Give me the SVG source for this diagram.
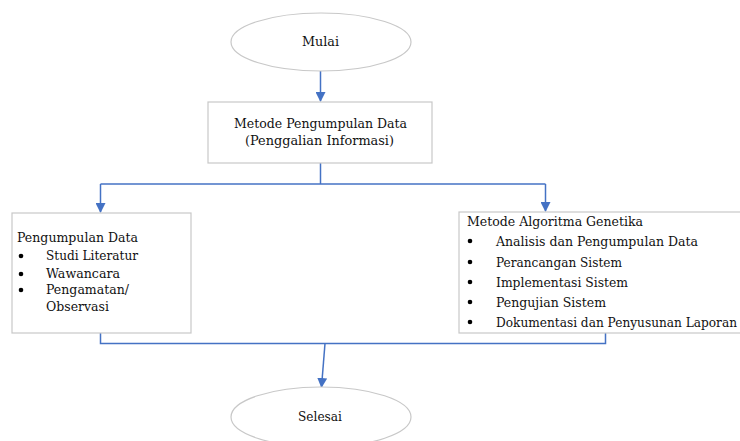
<svg xmlns="http://www.w3.org/2000/svg" width="740" height="441" viewBox="0 0 740 441">
<defs>
<style>
.shape{fill:#ffffff;stroke:#c8c8c8;stroke-width:1.2}
.c{fill:none;stroke:#4472c4;stroke-width:1.5}
.b{fill:#000}
</style>
<marker id="ah" markerWidth="10" markerHeight="10" refX="9" refY="5" orient="auto" markerUnits="userSpaceOnUse">
<path d="M0,0 L10,5 L0,10 Z" fill="#4472c4"/>
</marker>
</defs>
<rect width="740" height="441" fill="#ffffff"/>

<g id="connectors">
<path class="c" d="M320.5,71 L320.5,101" marker-end="url(#ah)"/>
<path class="c" d="M320.5,163 L320.5,184"/>
<path class="c" d="M100.5,184 L545.5,184"/>
<path class="c" d="M100.5,184 L100.5,212" marker-end="url(#ah)"/>
<path class="c" d="M545.5,184 L545.5,211" marker-end="url(#ah)"/>
<path class="c" d="M100.5,333 L100.5,343.5 L605.5,343.5 L605.5,333"/>
<path class="c" d="M325,343.5 L321.5,387" marker-end="url(#ah)"/>
</g>

<g font-family="'DejaVu Serif', 'Liberation Serif', serif" font-size="13" fill="#111">
<g id="mulai">
<ellipse class="shape" cx="321" cy="42" rx="90" ry="29"/>
<text x="302" y="46" textLength="37" lengthAdjust="spacingAndGlyphs">Mulai</text>
</g>

<g id="metode-pengumpulan">
<rect class="shape" x="208" y="102" width="224" height="61"/>
<text x="234" y="128" textLength="173" lengthAdjust="spacingAndGlyphs">Metode Pengumpulan Data</text>
<text x="245" y="145" textLength="149" lengthAdjust="spacingAndGlyphs">(Penggalian Informasi)</text>
</g>

<g id="pengumpulan-data">
<rect class="shape" x="12" y="213" width="179" height="120"/>
<text x="17" y="242" textLength="121" lengthAdjust="spacingAndGlyphs">Pengumpulan Data</text>
<circle class="b" cx="21" cy="256" r="2.3"/>
<text x="46" y="260" textLength="92" lengthAdjust="spacingAndGlyphs">Studi Literatur</text>
<circle class="b" cx="21" cy="274" r="2.3"/>
<text x="46" y="278" textLength="74" lengthAdjust="spacingAndGlyphs">Wawancara</text>
<circle class="b" cx="21" cy="290" r="2.3"/>
<text x="46" y="294" textLength="83" lengthAdjust="spacingAndGlyphs">Pengamatan/</text>
<text x="46" y="311" textLength="63" lengthAdjust="spacingAndGlyphs">Observasi</text>
</g>

<g id="metode-algoritma">
<rect class="shape" x="459" y="212" width="300" height="121"/>
<text x="467" y="226" textLength="176" lengthAdjust="spacingAndGlyphs">Metode Algoritma Genetika</text>
<circle class="b" cx="470" cy="241" r="2.3"/>
<text x="496" y="246" textLength="202" lengthAdjust="spacingAndGlyphs">Analisis dan Pengumpulan Data</text>
<circle class="b" cx="470" cy="262" r="2.3"/>
<text x="496" y="267" textLength="126" lengthAdjust="spacingAndGlyphs">Perancangan Sistem</text>
<circle class="b" cx="470" cy="282" r="2.3"/>
<text x="496" y="287" textLength="132" lengthAdjust="spacingAndGlyphs">Implementasi Sistem</text>
<circle class="b" cx="470" cy="302" r="2.3"/>
<text x="496" y="307" textLength="110" lengthAdjust="spacingAndGlyphs">Pengujian Sistem</text>
<circle class="b" cx="470" cy="322" r="2.3"/>
<text x="496" y="327" textLength="241" lengthAdjust="spacingAndGlyphs">Dokumentasi dan Penyusunan Laporan</text>
</g>

<g id="selesai">
<ellipse class="shape" cx="321" cy="417" rx="90" ry="30"/>
<text x="298" y="421" textLength="44" lengthAdjust="spacingAndGlyphs">Selesai</text>
</g>
</g>
</svg>
